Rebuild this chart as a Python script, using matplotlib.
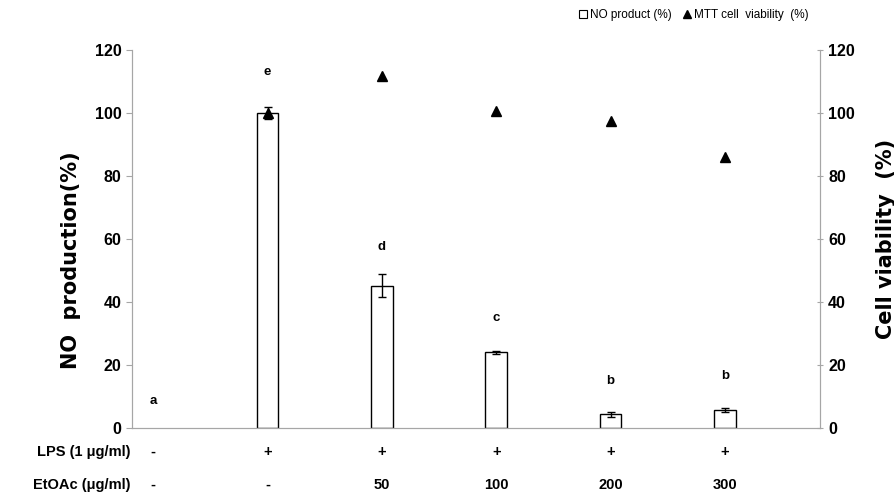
import matplotlib
matplotlib.use("Agg")
import matplotlib.pyplot as plt
from matplotlib.lines import Line2D
from matplotlib.patches import Patch

plt.rcParams["font.family"] = ["Liberation Sans", "DejaVu Sans"]

# data
groups = [0, 1, 2, 3, 4, 5]
lps_labels = ["-", "+", "+", "+", "+", "+"]
etoac_labels = ["-", "-", "50", "100", "200", "300"]
no_product = [0, 100, 45.2, 24.0, 4.3, 5.7]
no_err = [0, 2.0, 3.6, 0.4, 0.9, 0.6]
viability = [None, 100, 111.8, 100.7, 97.5, 86.1]
letters = ["a", "e", "d", "c", "b", "b"]
letter_y = [8.5, 113, 57.5, 34.8, 15, 16.4]

fig = plt.figure(figsize=(8.95, 4.97), dpi=100)
ax = fig.add_axes([0.1475, 0.139, 0.7685, 0.7604])
ax2 = ax.twinx()

bar_x = groups[1:]
ax.bar(bar_x, no_product[1:], width=0.19, color="white", edgecolor="black",
       linewidth=1.0, zorder=2)
ax.errorbar(bar_x, no_product[1:], yerr=no_err[1:], fmt="none", ecolor="black",
            elinewidth=1.0, capsize=3, capthick=1.0, zorder=3)

vx = [g for g, v in zip(groups, viability) if v is not None]
vy = [v for v in viability if v is not None]
ax2.plot(vx, vy, linestyle="none", marker="^", color="black", markersize=7, zorder=4)

for g, lab, ly in zip(groups, letters, letter_y):
    ax.text(g, ly, lab, ha="center", va="center", fontsize=9.5, fontweight="bold")

for a in (ax, ax2):
    a.set_ylim(0, 120)
    a.set_yticks(range(0, 121, 20))
    a.set_xlim(-0.185, 5.83)
    for s in a.spines.values():
        s.set_color("#a6a6a6")
    a.spines["top"].set_visible(False)

ax.set_xticks([])
ax.tick_params(axis="y", direction="out", length=4, color="#a6a6a6", labelsize=11.5)
ax2.tick_params(axis="y", direction="inout", length=5, color="#a6a6a6", labelsize=11.5)
for lbl in ax.get_yticklabels() + ax2.get_yticklabels():
    lbl.set_fontweight("bold")

ax.set_ylabel("NO  production(%)", fontsize=15, fontweight="bold",
              family=["DejaVu Sans"])
ax.yaxis.set_label_coords(-0.074, 0.445)
ax2.set_ylabel("Cell viability  (%)", fontsize=15, fontweight="bold",
               family=["DejaVu Sans"])
ax2.yaxis.set_label_coords(1.081, 0.5)

# treatment rows under the axis
ax.text(-0.2, -7.5, "LPS (1 \u03bcg/ml)", ha="right", va="center",
        fontsize=10.5, fontweight="bold", clip_on=False)
ax.text(-0.2, -18, "EtOAc (\u03bcg/ml)", ha="right", va="center",
        fontsize=10.5, fontweight="bold", clip_on=False)
for g, l1, l2 in zip(groups, lps_labels, etoac_labels):
    ax.text(g, -7.5, l1, ha="center", va="center", fontsize=10.5, fontweight="bold",
            clip_on=False)
    ax.text(g, -18, l2, ha="center", va="center", fontsize=10.5, fontweight="bold",
            clip_on=False)

handles = [Patch(facecolor="white", edgecolor="black", linewidth=0.8),
           Line2D([], [], linestyle="none", marker="^", color="black", markersize=6)]
fig.legend(handles, ["NO product (%)", "MTT cell  viability  (%)"], ncol=2,
           loc="center", bbox_to_anchor=(0.775, 0.97), frameon=False, fontsize=8.5,
           handlelength=0.7, handleheight=0.7, handletextpad=0.2, columnspacing=1.0)

fig.savefig("out.png", dpi=100)
